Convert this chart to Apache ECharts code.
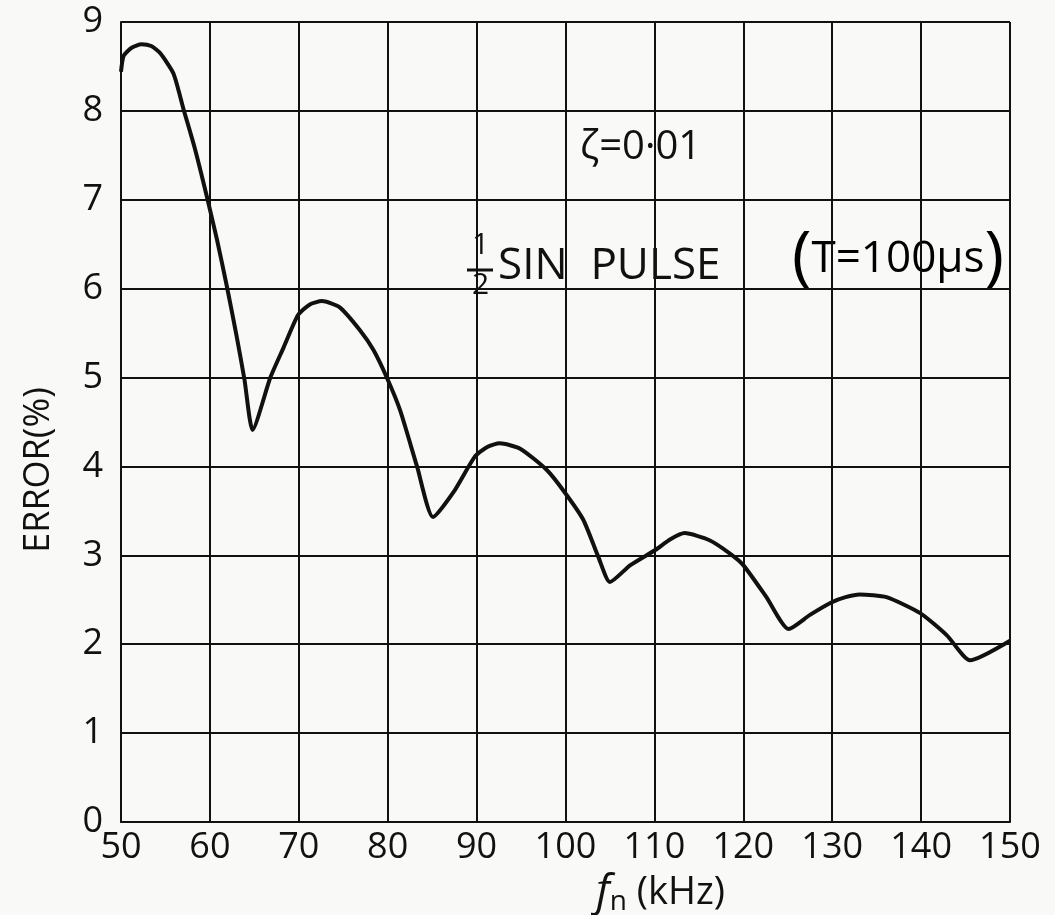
<!DOCTYPE html>
<html>
<head>
<meta charset="utf-8">
<title>ERROR vs fn</title>
<style>
  html, body { margin: 0; padding: 0; background: #f9f9f7; }
  #chart { width: 1055px; height: 915px; }
</style>
<script src="https://cdn.jsdelivr.net/npm/echarts@6/dist/echarts.min.js"></script>
</head>
<body>
<div id="chart"></div>
<script>
// frequency fn (kHz) and error (%)
var fn = [50, 50.3, 51.2, 52.3, 53.4, 54.4, 55.9, 57.0, 58.3, 59.6, 60.8, 61.9, 63.0, 63.9, 64.8,
          66.8, 68.3, 69.9, 71.2, 72.6, 74.6, 76.9, 78.4, 79.9, 81.4, 83.3, 85.1,
          87.4, 89.8, 91.2, 92.6, 94.9, 97.9, 99.9, 102.0, 103.7, 105.0,
          107.3, 110.1, 111.8, 113.4, 116.2, 118.5, 120.0, 122.6, 125.1,
          127.5, 129.9, 131.5, 133.1, 136.1, 139.9, 142.9, 145.5, 150];
var errorPct = [8.44, 8.62, 8.71, 8.75, 8.73, 8.65, 8.42, 8.03, 7.58, 7.06, 6.55, 6.03, 5.47, 4.97, 4.41,
                5.00, 5.34, 5.70, 5.82, 5.86, 5.79, 5.53, 5.31, 5.00, 4.63, 4.00, 3.43,
                3.71, 4.11, 4.22, 4.26, 4.20, 3.96, 3.71, 3.40, 2.98, 2.70,
                2.89, 3.06, 3.18, 3.25, 3.17, 3.02, 2.89, 2.53, 2.17,
                2.33, 2.47, 2.53, 2.56, 2.53, 2.35, 2.10, 1.82, 2.04];
var xTicks = [50, 150, 10];   // min, max, step
var yTicks = [0, 9, 1];

var font = "'Open Sans', 'DejaVu Sans', sans-serif";
var ink = '#111';

var chart = echarts.init(document.getElementById('chart'));
chart.setOption({
  backgroundColor: '#f9f9f7',
  animation: false,
  grid: { left: 121, right: 45, top: 22, bottom: 93, outerBoundsMode: 'none', containLabel: false },
  xAxis: {
    type: 'value',
    min: xTicks[0], max: xTicks[1], interval: xTicks[2],
    name: '{f|f}{n|n}{u| (kHz)}',
    nameLocation: 'middle',
    nameGap: 38,
    nameTextStyle: {
      padding: [0, 0, 0, 190],
      rich: {
        f: { fontSize: 44, fontFamily: font, color: ink, fontStyle: 'italic' },
        n: { fontSize: 28, fontFamily: font, color: ink, padding: [18, 0, 0, 0] },
        u: { fontSize: 38, fontFamily: font, color: ink }
      }
    },
    axisLine: { lineStyle: { color: ink, width: 2 } },
    axisTick: { show: false },
    axisLabel: { fontSize: 36, fontFamily: font, color: ink, margin: 8 },
    splitLine: { show: true, lineStyle: { color: ink, width: 2 } }
  },
  yAxis: {
    type: 'value',
    min: yTicks[0], max: yTicks[1], interval: yTicks[2],
    name: 'ERROR(%)',
    nameLocation: 'middle',
    nameGap: 64,
    nameTextStyle: { fontSize: 36, fontFamily: font, color: ink, padding: [0, 96, 0, 0] },
    axisLine: { show: true, lineStyle: { color: ink, width: 2 } },
    axisTick: { show: false },
    axisLabel: { fontSize: 36, fontFamily: font, color: ink, margin: 18 },
    splitLine: { show: true, lineStyle: { color: ink, width: 2 } }
  },
  graphic: [
    {
      type: 'text', left: 580, top: 128,
      style: { text: 'ζ=0·01', font: '40px ' + font, fill: ink }
    },
    {
      type: 'text', left: 472, top: 230, z: 10,
      style: { text: '1', fontSize: 30, fontFamily: font, fill: ink }
    },
    {
      type: 'line', shape: { x1: 467, y1: 270, x2: 493, y2: 270 },
      style: { stroke: ink, lineWidth: 3 }
    },
    {
      type: 'text', left: 472, top: 270, z: 10,
      style: { text: '2', fontSize: 30, fontFamily: font, fill: ink }
    },
    {
      type: 'text', left: 498, top: 244,
      style: { text: 'SIN  PULSE', font: '44px ' + font, fill: ink }
    },
    {
      type: 'text', left: 792, top: 226,
      style: {
        text: '{p|(}{t|T=100μs}{p|)}',
        rich: {
          p: { fontSize: 66, fontFamily: font, color: ink },
          t: { fontSize: 44, fontFamily: font, color: ink }
        }
      }
    }
  ],
  series: [{
    type: 'line',
    data: fn.map(function (x, i) { return [x, errorPct[i]]; }),
    showSymbol: false,
    smooth: 0.2,
    lineStyle: { color: ink, width: 4 }
  }]
});
</script>
</body>
</html>
